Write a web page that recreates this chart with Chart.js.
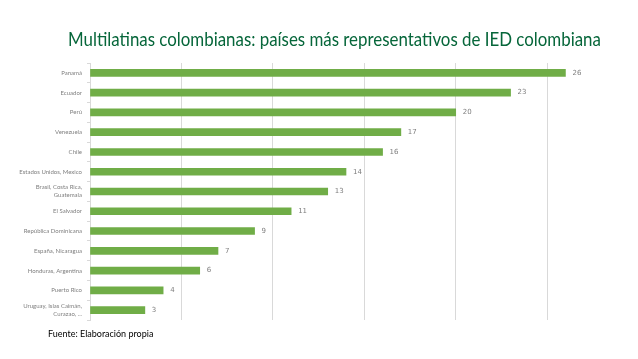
<!DOCTYPE html>
<html>
<head>
<meta charset="utf-8">
<script src="https://cdn.jsdelivr.net/npm/chart.js@4.4.0/dist/chart.umd.min.js"></script>
<style>
  body { margin: 0; background: #fff; }
  #wrap { position: relative; width: 638px; height: 359px; overflow: hidden; }
  #myChart { position: absolute; left: 0; top: 0; }
  #title { position: absolute; left: 68px; top: 26px; font-family: Lato, sans-serif; font-size: 20px; color: #06663a; white-space: nowrap; transform-origin: 0 0; }
  #source { position: absolute; left: 48px; top: 328px; font-family: Lato, sans-serif; font-size: 9px; color: #000; white-space: nowrap; }
</style>
</head>
<body>
<div id="wrap">
  <canvas id="myChart" width="638" height="359"></canvas>
  <div id="title">Multilatinas colombianas: países más representativos de IED colombiana</div>
  <div id="source">Fuente: Elaboración propia</div>
</div>
<script>
let countries = [
    'Panamá', 'Ecuador', 'Perú', 'Venezuela', 'Chile', 'Estados Unidos, Mexico',
    ['Brasil, Costa Rica,', 'Guatemala'], 'El Salvador', 'República Dominicana',
    'España, Nicaragua', 'Honduras, Argentina', 'Puerto Rico',
    ['Uruguay, Islas Caimán,', 'Curazao, ...']
];
let projects = [26, 23, 20, 17, 16, 14, 13, 11, 9, 7, 6, 4, 3];

// squeeze the title to the width it has in the picture
let title = document.getElementById('title');
title.style.transform = 'scaleX(' + (533 / title.scrollWidth) + ')';

let valueLabels = {
    id: 'valueLabels',
    afterDatasetsDraw(chart) {
        let c = chart.ctx;
        c.save();
        c.font = '7px "DejaVu Sans", sans-serif';
        c.fillStyle = '#7f7f7f';
        c.textBaseline = 'middle';
        chart.getDatasetMeta(0).data.forEach((bar, i) => {
            c.fillText(projects[i], bar.x + 7, bar.y);
        });
        c.restore();
    }
};

let ctx = document.getElementById('myChart').getContext('2d');
let myChart = new Chart(ctx, {
    type: 'bar',
    data: {
        labels: countries,
        datasets: [{
            data: projects,
            backgroundColor: '#70ad47',
            barThickness: 7
        }]
    },
    options: {
        indexAxis: 'y',
        responsive: false,
        animation: false,
        layout: { padding: { top: 63, bottom: 39, right: 36, left: 0 } },
        plugins: {
            legend: { display: false },
            tooltip: { enabled: false }
        },
        scales: {
            x: {
                min: 0,
                max: 28,
                ticks: { display: false, stepSize: 5, includeBounds: false },
                grid: { color: '#d9d9d9', drawTicks: false },
                border: { display: false },
                afterFit: s => { s.height = 0; }
            },
            y: {
                ticks: {
                    color: '#7f7f7f',
                    font: { family: 'Lato, sans-serif', size: 6, lineHeight: 1.35 },
                    padding: 5,
                    autoSkip: false
                },
                grid: { offset: true, drawOnChartArea: false, color: '#d9d9d9', tickLength: 3 },
                border: { color: '#d9d9d9' },
                afterFit: s => { s.width = 90; }
            }
        }
    },
    plugins: [valueLabels]
});
</script>
</body>
</html>
